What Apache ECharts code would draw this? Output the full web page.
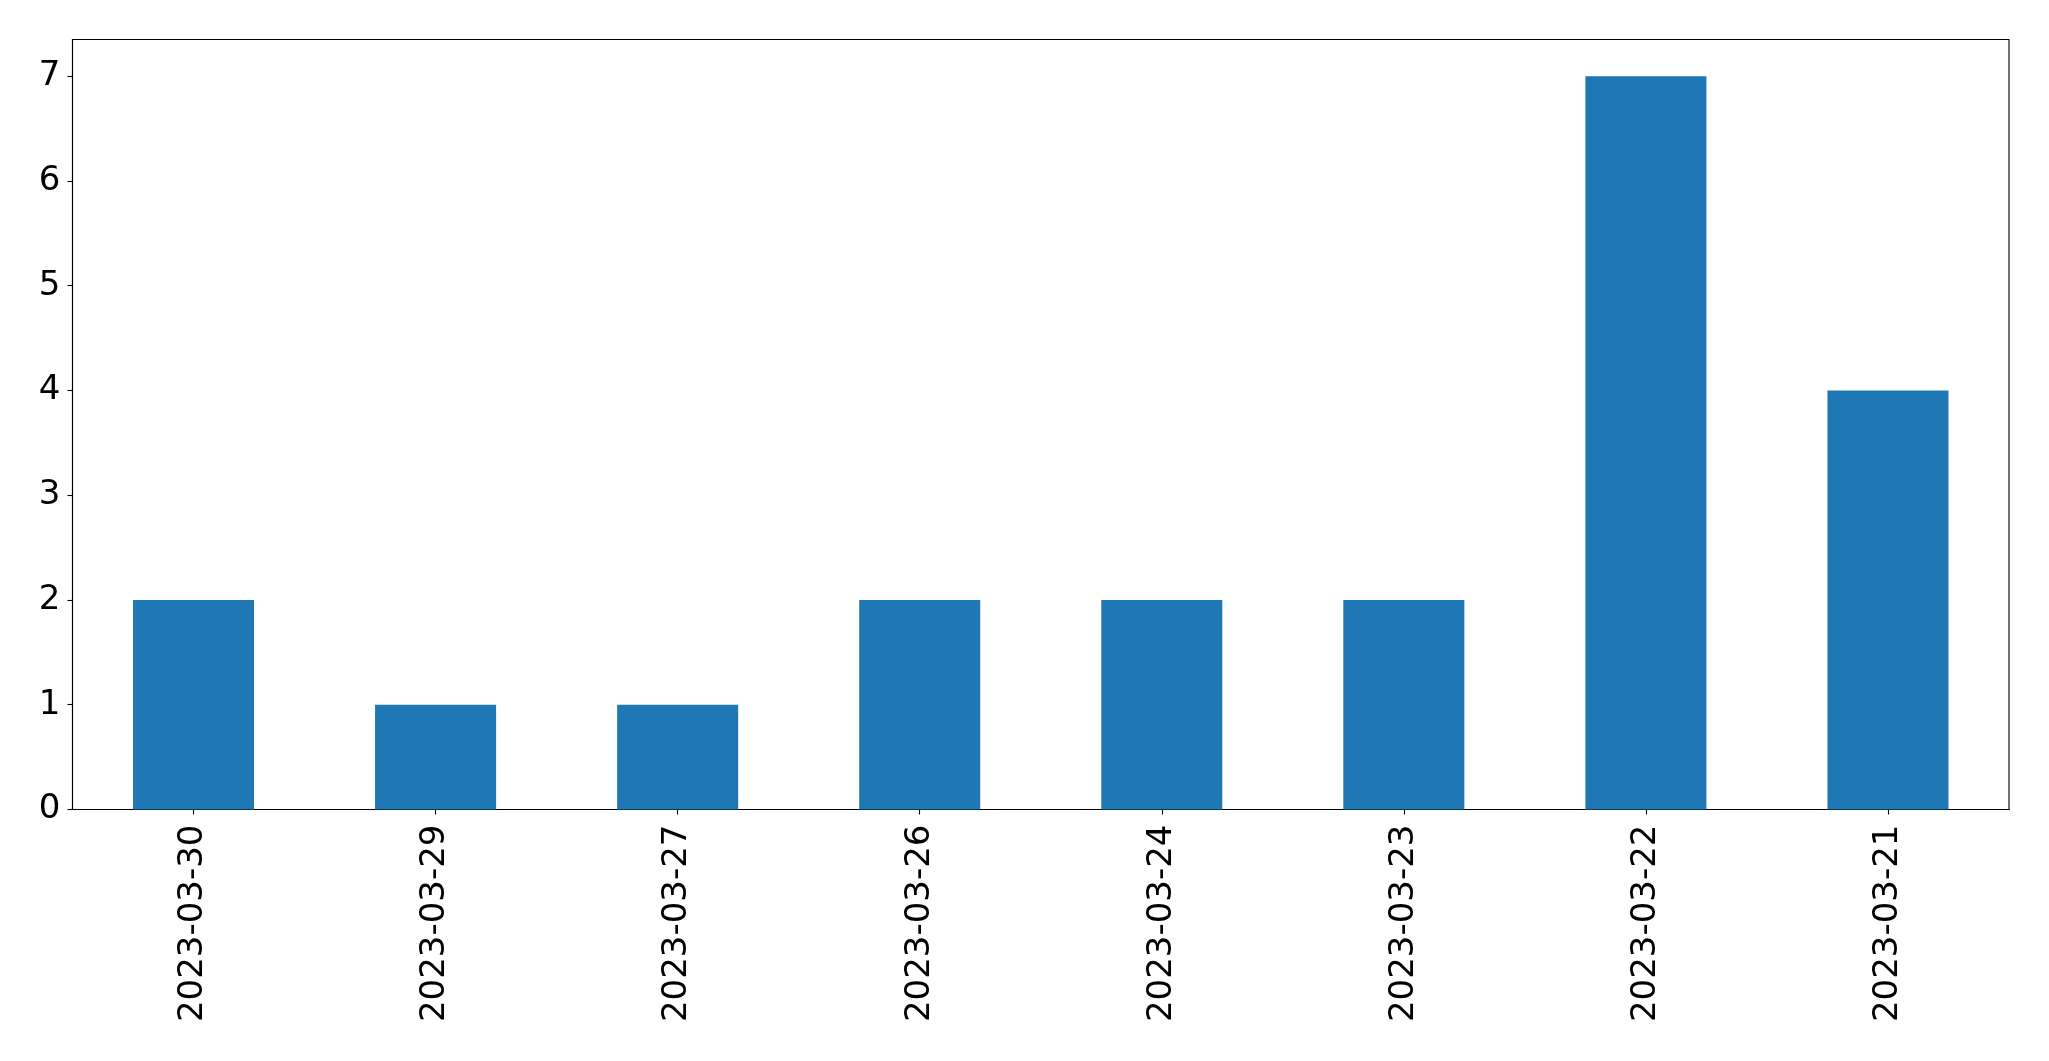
<!DOCTYPE html>
<html>
<head>
<meta charset="utf-8">
<script src="https://cdn.jsdelivr.net/npm/echarts@6/dist/echarts.min.js"></script>
<style>html,body{margin:0;padding:0;background:#fff;}#c{width:2049px;height:1061px;}</style>
</head>
<body>
<div id="c"></div>
<script>
const categories = ["2023-03-30","2023-03-29","2023-03-27","2023-03-26","2023-03-24","2023-03-23","2023-03-22","2023-03-21"];
const values = [2,1,1,2,2,2,7,4];
const yTicks = [0,1,2,3,4,5,6,7];

const chart = echarts.init(document.getElementById('c'), null, {renderer:'canvas'});
chart.setOption({
  animation: false,
  backgroundColor: '#ffffff',
  grid: {left: 72.5, right: 40, top: 39.5, bottom: 251.5, show: true, borderColor: '#000', borderWidth: 1.1, backgroundColor: 'transparent'},
  xAxis: {
    type: 'category',
    data: categories,
    axisLine: {show: true, lineStyle: {color: '#000', width: 1.1}},
    axisTick: {show: true, alignWithLabel: true, length: 5, lineStyle: {color: '#000', width: 1.1}},
    axisLabel: {rotate: 90, margin: 15, color: '#000', fontSize: 34, fontFamily: 'DejaVu Sans', interval: 0},
    splitLine: {show: false}
  },
  yAxis: {
    type: 'value',
    min: 0, max: 7.35, interval: 1,
    axisLine: {show: true, lineStyle: {color: '#000', width: 1.1}},
    axisTick: {show: true, length: 5, lineStyle: {color: '#000', width: 1.1}},
    axisLabel: {color: '#000', fontSize: 34, fontFamily: 'DejaVu Sans', margin: 12,
      formatter: v => (yTicks.indexOf(v) >= 0 ? String(v) : ''), showMaxLabel: false},
    splitLine: {show: false}
  },
  series: [{
    type: 'bar',
    data: values,
    barWidth: '50%',
    itemStyle: {color: '#1f77b4'}
  }]
});
</script>
</body>
</html>
